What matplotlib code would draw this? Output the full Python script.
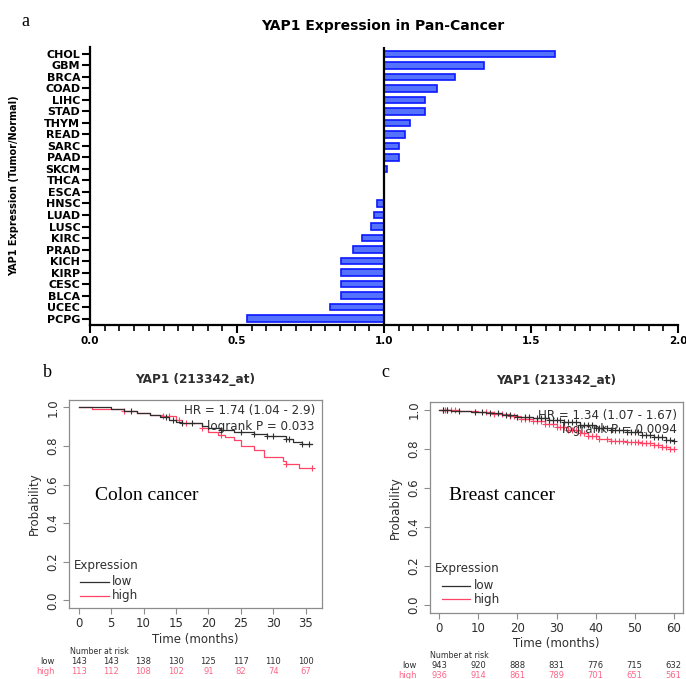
import numpy as np
import matplotlib
matplotlib.use("Agg")
import matplotlib.pyplot as plt
import matplotlib.transforms as mtransforms
from matplotlib.ticker import MultipleLocator

# ---------------- data ----------------
cancers = ["CHOL", "GBM", "BRCA", "COAD", "LIHC", "STAD", "THYM", "READ", "SARC", "PAAD",
           "SKCM", "THCA", "ESCA", "HNSC", "LUAD", "LUSC", "KIRC", "PRAD", "KICH", "KIRP",
           "CESC", "BLCA", "UCEC", "PCPG"]
expr_ratio = [1.58, 1.34, 1.24, 1.18, 1.14, 1.14, 1.09, 1.07, 1.05, 1.05,
              1.01, 1.00, 1.00, 0.975, 0.965, 0.955, 0.925, 0.895, 0.855, 0.855,
              0.855, 0.855, 0.815, 0.535]

# Colon cancer KM (step points)
colon_low_t = [0, 5, 7, 9, 11, 12.5, 14, 15, 16, 19, 20, 22, 24, 26, 27, 29, 32, 33, 34.5, 36]
colon_low_s = [1.0, 0.99, 0.98, 0.972, 0.962, 0.95, 0.935, 0.925, 0.918, 0.905, 0.893, 0.885,
               0.875, 0.87, 0.862, 0.853, 0.835, 0.822, 0.812, 0.812]
colon_high_t = [0, 2, 7, 9, 11, 13, 15, 16, 19, 20, 21.5, 22.5, 24, 25, 27, 28.5, 31.5, 32, 34, 36]
colon_high_s = [1.0, 0.99, 0.98, 0.97, 0.96, 0.955, 0.935, 0.918, 0.893, 0.87, 0.855, 0.848,
                0.83, 0.8, 0.78, 0.745, 0.72, 0.705, 0.685, 0.685]
colon_low_cens = [8, 13.5, 14.5, 16, 17.5, 22, 25, 27, 29, 30, 32, 32.5, 34.5, 35.5]
colon_high_cens = [7, 13, 14, 15.5, 16.5, 19, 22, 32, 36]
colon_times = [0, 5, 10, 15, 20, 25, 30, 35]
colon_risk_low = [143, 143, 138, 130, 125, 117, 110, 100]
colon_risk_high = [113, 112, 108, 102, 91, 82, 74, 67]

# Breast cancer KM (step points)
breast_low_t = [0, 3, 8, 12, 16, 20, 24, 28, 32, 36, 40, 44, 48, 52, 55, 58, 60]
breast_low_s = [1.0, 0.995, 0.99, 0.982, 0.975, 0.965, 0.957, 0.947, 0.935, 0.922, 0.905,
                0.895, 0.884, 0.872, 0.86, 0.845, 0.84]
breast_high_t = [0, 5, 10, 14, 18, 21, 24, 27, 30, 33, 36, 38, 41, 44, 48, 52, 55, 57, 59, 60]
breast_high_s = [1.0, 0.995, 0.99, 0.98, 0.97, 0.955, 0.94, 0.925, 0.91, 0.895, 0.88, 0.865,
                 0.85, 0.84, 0.835, 0.828, 0.82, 0.81, 0.8, 0.797]
breast_low_cens = [1, 2, 5, 9, 11, 13, 15, 17, 18, 20, 22, 23, 25, 26, 27, 28, 29, 30, 31,
                   32, 33, 34, 35, 36, 37, 38, 39, 40, 41, 42, 43, 44, 45, 46, 47, 48, 49,
                   50, 51, 52, 53, 54, 55, 56, 57, 58, 59, 60]
breast_high_cens = [1, 1.5, 2, 3, 4, 12, 14, 16, 18, 19, 21, 22, 23, 24, 25, 26, 27, 28, 29,
                    30, 31, 32, 33, 34, 35, 36, 37, 38, 39, 40, 41, 43, 44, 45, 46, 47, 48,
                    49, 50, 51, 52, 53, 54, 55, 56, 57, 58, 59, 60]
breast_times = [0, 10, 20, 30, 40, 50, 60]
breast_risk_low = [943, 920, 888, 831, 776, 715, 632]
breast_risk_high = [936, 914, 861, 789, 701, 651, 561]

# ---------------- figure ----------------
fig = plt.figure(figsize=(6.86, 6.79), dpi=100)
W, H = 686, 679

def ax_rect(l, t, r, b):
    return [l / W, 1 - b / H, (r - l) / W, (b - t) / H]

# ---- Panel a ----
bold_sans = "DejaVu Sans"
axa = fig.add_axes(ax_rect(90, 47, 678, 325))
ypos = np.arange(len(cancers))
vals = np.array(expr_ratio)
axa.barh(ypos, vals - 1.0, left=1.0, height=0.55, color="#5572ff", edgecolor="#0a18ff",
         linewidth=1.2, zorder=2)
axa.axvline(1.0, color="black", lw=1.6, zorder=3)
axa.set_xlim(0, 2.0)
axa.set_ylim(len(cancers) - 1 + 0.56, -0.6)
axa.set_yticks(ypos)
axa.set_yticklabels(cancers, fontfamily=bold_sans, fontweight="bold", fontsize=8)
axa.set_xticks([0.0, 0.5, 1.0, 1.5, 2.0])
axa.set_xticklabels(["0.0", "0.5", "1.0", "1.5", "2.0"], fontfamily=bold_sans,
                    fontweight="bold", fontsize=7.5)
axa.xaxis.set_minor_locator(MultipleLocator(0.05))
for s in ["top", "right"]:
    axa.spines[s].set_visible(False)
for s in ["left", "bottom"]:
    axa.spines[s].set_linewidth(1.6)
axa.tick_params(axis="y", length=6, width=1.5, pad=1)
axa.tick_params(axis="x", which="major", length=6, width=1.5, pad=2)
axa.tick_params(axis="x", which="minor", length=4, width=1.2)
fig.text(383 / W, 1 - 25.7 / H, "YAP1 Expression in Pan-Cancer", ha="center", va="center",
         fontfamily=bold_sans, fontweight="bold", fontsize=10)
fig.text(14 / W, 1 - 186 / H, "YAP1 Expression (Tumor/Normal)", ha="center", va="center",
         rotation=90, fontfamily=bold_sans, fontweight="bold", fontsize=7)
fig.text(25 / W, 1 - 22 / H, "a", ha="center", va="center", fontfamily="Liberation Serif",
         fontsize=13)

# ---- KM panels ----
RED = "#ff4466"
RED_TXT = "#ff6688"
BLK = "#2e2e2e"
GRAY = "#8c8c8c"

def surv_at(tlist, slist, tc):
    tt = np.array(tlist)
    ss = np.array(slist)
    idx = np.searchsorted(tt, np.array(tc), side="right") - 1
    return ss[np.clip(idx, 0, len(ss) - 1)]

def km_panel(rect, tmax, xticks, low_t, low_s, high_t, high_s, low_c, high_c,
             hr_txt, p_txt, cancer, cancer_pos, leg, title_y, letter, letter_pos,
             risk_times, risk_low, risk_high, risk_y, risk_lbl_x, risk_hdr_x):
    ax = fig.add_axes(rect)
    ax.step(low_t, low_s, where="post", color=BLK, lw=0.9, zorder=3)
    ax.step(high_t, high_s, where="post", color=RED, lw=0.9, zorder=2)
    ax.plot(low_c, surv_at(low_t, low_s, low_c), linestyle="none", marker="+",
            color=BLK, ms=4, mew=0.8, zorder=3)
    ax.plot(high_c, surv_at(high_t, high_s, high_c), linestyle="none", marker="+",
            color=RED, ms=4, mew=0.8, zorder=2)
    pad = tmax * 0.04
    ax.set_xlim(-pad, tmax + pad)
    ax.set_ylim(-0.04, 1.04)
    ax.set_xticks(xticks)
    ax.set_xticklabels([str(v) for v in xticks], fontsize=8.5, color=BLK)
    yt = [0.0, 0.2, 0.4, 0.6, 0.8, 1.0]
    ax.set_yticks(yt)
    ax.set_yticklabels([f"{v:.1f}" for v in yt], fontsize=8.5, color=BLK, rotation=90,
                       va="center")
    for s in ax.spines.values():
        s.set_color(GRAY)
        s.set_linewidth(0.9)
    ax.tick_params(length=4, width=0.8, color=GRAY, pad=2.5)
    ax.tick_params(axis="y", pad=3)
    ax.set_ylabel("Probability", fontsize=8.5, color=BLK, labelpad=4)
    ax.set_xlabel("Time (months)", fontsize=8.5, color=BLK, labelpad=2)
    ax.set_title("YAP1 (213342_at)", fontsize=8.7, fontweight="bold", color=BLK,
                 pad=title_y)
    ax.text(hr_txt[0], hr_txt[1], hr_txt[2], transform=ax.transAxes, ha="right",
            va="center", fontsize=8.6, color=BLK)
    ax.text(p_txt[0], p_txt[1], p_txt[2], transform=ax.transAxes, ha="right",
            va="center", fontsize=8.6, color=BLK)
    ax.text(cancer_pos[0], cancer_pos[1], cancer, transform=ax.transAxes, ha="left",
            va="center", fontfamily="Liberation Serif", fontsize=14, color="black")
    lx0, lx1, ltx, ly_exp, ly_low, ly_high = leg
    ax.text(lx0 - 0.025, ly_exp, "Expression", transform=ax.transAxes, ha="left",
            va="center", fontsize=8.6, color=BLK)
    ax.plot([lx0, lx1], [ly_low, ly_low], transform=ax.transAxes, color=BLK, lw=0.9)
    ax.plot([lx0, lx1], [ly_high, ly_high], transform=ax.transAxes, color=RED, lw=0.9)
    ax.text(ltx, ly_low, "low", transform=ax.transAxes, ha="left", va="center",
            fontsize=8.6, color=BLK)
    ax.text(ltx, ly_high, "high", transform=ax.transAxes, ha="left", va="center",
            fontsize=8.6, color=BLK)
    fig.text(letter_pos[0] / W, 1 - letter_pos[1] / H, letter, ha="center", va="center",
             fontfamily="Liberation Serif", fontsize=13)
    # number at risk
    tr = mtransforms.blended_transform_factory(ax.transData, fig.transFigure)
    hdr_y, low_y, high_y = risk_y
    fig.text(risk_hdr_x / W, 1 - hdr_y / H, "Number at risk", ha="left", va="center",
             fontsize=5.7, color=BLK)
    fig.text(risk_lbl_x / W, 1 - low_y / H, "low", ha="right", va="center",
             fontsize=6, color=BLK)
    fig.text(risk_lbl_x / W, 1 - high_y / H, "high", ha="right", va="center",
             fontsize=6, color=RED_TXT)
    for tt, nl, nh in zip(risk_times, risk_low, risk_high):
        ax.text(tt, 1 - low_y / H, str(nl), transform=tr, ha="center", va="center",
                fontsize=6, color=BLK, clip_on=False)
        ax.text(tt, 1 - high_y / H, str(nh), transform=tr, ha="center", va="center",
                fontsize=6, color=RED_TXT, clip_on=False)
    return ax

km_panel(ax_rect(69.3, 399.7, 321.5, 608), 36, [0, 5, 10, 15, 20, 25, 30, 35],
         colon_low_t, colon_low_s, colon_high_t, colon_high_s, colon_low_cens, colon_high_cens,
         (0.974, 0.946, "HR = 1.74 (1.04 - 2.9)"), (0.974, 0.871, "logrank P = 0.033"),
         "Colon cancer", (0.103, 0.538), (0.043, 0.158, 0.169, 0.206, 0.125, 0.06),
         12, "b", (47, 372), colon_times, colon_risk_low, colon_risk_high,
         (651.5, 661.5, 671), 55, 70)

km_panel(ax_rect(430, 402, 683, 612.5), 60, [0, 10, 20, 30, 40, 50, 60],
         breast_low_t, breast_low_s, breast_high_t, breast_high_s, breast_low_cens,
         breast_high_cens,
         (0.976, 0.938, "HR = 1.34 (1.07 - 1.67)"), (0.976, 0.867, "logrank P = 0.0094"),
         "Breast cancer", (0.075, 0.558), (0.046, 0.158, 0.174, 0.207, 0.126, 0.064),
         13, "c", (385.7, 372.7), breast_times, breast_risk_low, breast_risk_high,
         (655, 665, 675), 416.7, 430)

fig.savefig("out.png", dpi=100)
